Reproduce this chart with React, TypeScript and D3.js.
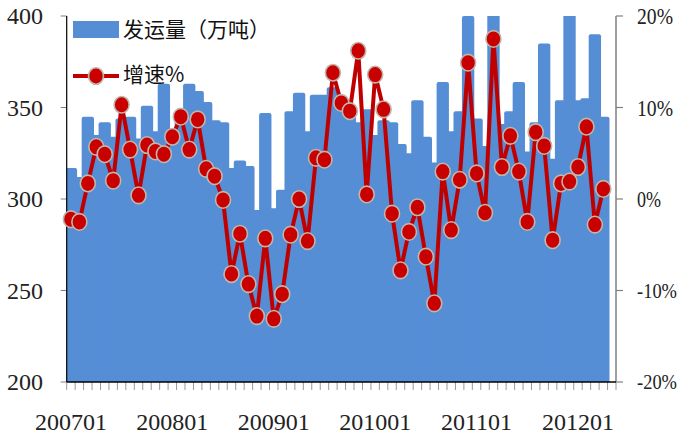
import React, { useRef, useEffect } from 'react'
import * as d3 from 'd3'

// 月份（最后一个类别无数据）
const months = [
  '200701','200702','200703','200704','200705','200706','200707','200708','200709','200710','200711','200712',
  '200801','200802','200803','200804','200805','200806','200807','200808','200809','200810','200811','200812',
  '200901','200902','200903','200904','200905','200906','200907','200908','200909','200910','200911','200912',
  '201001','201002','201003','201004','201005','201006','201007','201008','201009','201010','201011','201012',
  '201101','201102','201103','201104','201105','201106','201107','201108','201109','201110','201111','201112',
  '201201','201202','201203','201204','201205'
]

// 发运量（万吨）
const volume = [
  317, 312, 345, 335, 342, 334, 344, 345, 333, 351, 337, 363,
  338, 344, 363, 359, 353, 343, 342, 317, 321, 318, 294, 347,
  295, 305, 348, 358, 337, 357, 357, 361, 354, 350, 342, 349,
  335, 343, 342, 330, 325, 354, 334, 320, 364, 337, 348, 400,
  344, 329, 401, 341, 348, 364, 326, 342, 385, 322, 354, 401,
  354, 355, 390, 345
]

// 增速%
const growth = [
  -2.2, -2.5, 1.7, 5.7, 4.9, 2.0, 10.3, 5.4, 0.4, 5.9, 5.2, 4.9,
  6.8, 9.0, 5.4, 8.7, 3.3, 2.5, -0.1, -8.2, -3.8, -9.3, -12.8, -4.3,
  -13.1, -10.4, -3.9, 0.0, -4.6, 4.5, 4.3, 13.8, 10.5, 9.6, 16.2, 0.5,
  13.6, 9.8, -1.6, -7.8, -3.6, -0.9, -6.3, -11.4, 3.0, -3.4, 2.1, 14.9,
  2.8, -1.5, 17.5, 3.5, 6.9, 3.0, -2.5, 7.3, 5.8, -4.5, 1.7, 1.9,
  3.5, 7.9, -2.8, 1.1
]

const leftTicks = [200, 250, 300, 350, 400]
const rightTicks = [-20, -10, 0, 10, 20]
const xLabels = ['200701', '200801', '200901', '201001', '201101', '201201']

const BLUE = '#558ed5'
const RED = '#c00000'
const SERIF = "'Times New Roman', Times, 'Liberation Serif', 'DejaVu Serif', 'Noto Serif', serif"
const CJK = "'Noto Sans CJK SC', sans-serif"

const App = () => {
  const ref = useRef<SVGSVGElement>(null)

  useEffect(() => {
    const svg = d3.select(ref.current)
    svg.selectAll('*').remove()

    const left = 66.7, right = 616, top = 16, bottom = 382

    const x = d3.scaleBand().domain(months).range([left, right]).padding(0)
    const yL = d3.scaleLinear().domain([200, 400]).range([bottom, top])
    const yR = d3.scaleLinear().domain([-20, 20]).range([bottom, top])
    const bw = x.bandwidth()
    const barW = bw * 1.46
    const cx = (i: number) => (x(months[i]) as number) + bw / 2

    svg.append('clipPath').attr('id', 'plot')
      .append('rect').attr('x', left).attr('y', top)
      .attr('width', right - left).attr('height', bottom - top)

    // bars
    svg.append('g').attr('clip-path', 'url(#plot)')
      .selectAll('rect')
      .data(volume)
      .enter()
      .append('rect')
      .attr('x', (d, i) => cx(i) - barW / 2)
      .attr('y', d => yL(d))
      .attr('width', barW)
      .attr('height', d => bottom - yL(d) + 5)
      .attr('rx', 2)
      .attr('fill', BLUE)

    // left axis
    const gl = svg.append('g')
    gl.selectAll('line').data(leftTicks).enter().append('line')
      .attr('x1', left - 6).attr('x2', left)
      .attr('y1', d => yL(d)).attr('y2', d => yL(d))
      .attr('stroke', '#808080').attr('stroke-width', 1)
    gl.selectAll('text').data(leftTicks).enter().append('text')
      .attr('x', 43).attr('y', d => yL(d))
      .attr('dy', '0.35em')
      .attr('text-anchor', 'end')
      .style('font-family', SERIF).style('font-size', '24px').attr('fill', '#222')
      .text(d => d)
    gl.append('line').attr('x1', left).attr('x2', left).attr('y1', top).attr('y2', bottom)
      .attr('stroke', '#000').attr('stroke-width', 1.2)

    // right axis
    const gr = svg.append('g')
    gr.selectAll('line').data(rightTicks).enter().append('line')
      .attr('x1', right).attr('x2', right + 7)
      .attr('y1', d => yR(d)).attr('y2', d => yR(d))
      .attr('stroke', '#808080').attr('stroke-width', 1.2)
    gr.append('line').attr('x1', right).attr('x2', right).attr('y1', top).attr('y2', bottom)
      .attr('stroke', '#808080').attr('stroke-width', 1.5)
    gr.selectAll('text').data(rightTicks).enter().append('text')
      .attr('x', 637).attr('y', d => yR(d))
      .attr('dy', '0.35em')
      .style('font-family', SERIF).style('font-size', d => (d < 0 ? '20px' : '24px')).attr('fill', '#222')
      .attr('textLength', d => (d < 0 ? 40 : d === 0 ? 24 : 36))
      .attr('lengthAdjust', 'spacingAndGlyphs')
      .text(d => `${d}%`)

    // bottom axis
    const gb = svg.append('g')
    const edges = months.map(m => x(m) as number).concat([right])
    gb.selectAll('line.tick').data(edges).enter().append('line')
      .attr('class', 'tick')
      .attr('x1', d => d).attr('x2', d => d)
      .attr('y1', bottom).attr('y2', bottom + 8)
      .attr('stroke', '#999').attr('stroke-width', 1)
    gb.append('line').attr('x1', left).attr('x2', right).attr('y1', bottom).attr('y2', bottom)
      .attr('stroke', '#000').attr('stroke-width', 1.5)
    gb.selectAll('text').data(xLabels).enter().append('text')
      .attr('x', d => (x(d) as number) + bw / 2)
      .attr('y', 430)
      .attr('text-anchor', 'middle')
      .style('font-family', SERIF).style('font-size', '24px').attr('fill', '#222')
      .text(d => d)

    // growth line
    const line = d3.line<number>().x((d, i) => cx(i)).y(d => yR(d))
    svg.append('path')
      .datum(growth)
      .attr('d', line)
      .attr('fill', 'none')
      .attr('stroke', RED)
      .attr('stroke-width', 4)
      .attr('stroke-linejoin', 'round')

    svg.append('g').selectAll('ellipse')
      .data(growth)
      .enter()
      .append('ellipse')
      .attr('cx', (d, i) => cx(i))
      .attr('cy', d => yR(d))
      .attr('rx', 7.5).attr('ry', 8.3)
      .attr('fill', '#c80000')
      .attr('stroke', '#c0b6ae')
      .attr('stroke-width', 1.6)

    // legend
    const lg = svg.append('g')
    lg.append('rect').attr('x', 73).attr('y', 21).attr('width', 46).attr('height', 17)
      .attr('fill', BLUE)
    lg.append('text').attr('x', 123).attr('y', 29).attr('dy', '0.36em')
      .style('font-family', CJK).style('font-size', '21px').attr('fill', '#111')
      .text('发运量（万吨）')
    lg.append('line').attr('x1', 73).attr('x2', 119).attr('y1', 76).attr('y2', 76)
      .attr('stroke', RED).attr('stroke-width', 4)
    lg.append('ellipse').attr('cx', 96).attr('cy', 76).attr('rx', 7.5).attr('ry', 8.3)
      .attr('fill', '#c80000').attr('stroke', '#c0b6ae').attr('stroke-width', 1.6)
    lg.append('text').attr('x', 123).attr('y', 74).attr('dy', '0.36em')
      .style('font-family', CJK).style('font-size', '21px').attr('fill', '#111')
      .text('增速%')
  }, [])

  return (
    <svg ref={ref} width={683} height={439}
      style={{ position: 'absolute', left: 0, top: 0, background: '#fff' }} />
  )
}

export default App
